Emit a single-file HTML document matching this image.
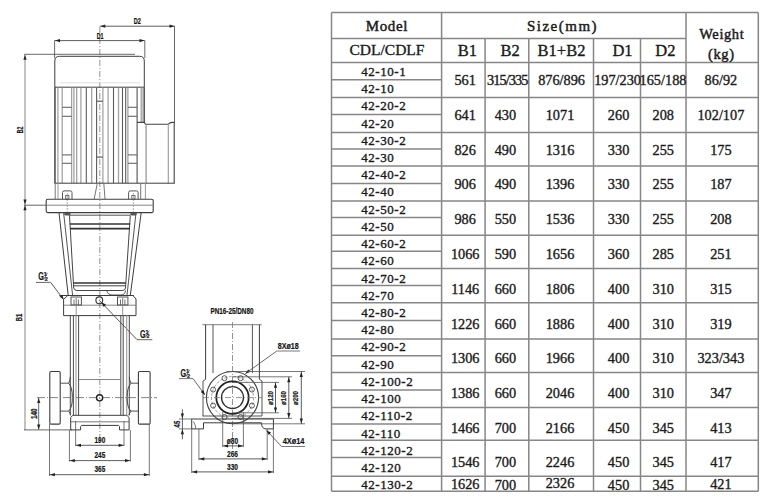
<!DOCTYPE html>
<html><head><meta charset="utf-8"><style>
html,body{margin:0;padding:0;background:#fff;}
body{width:774px;height:500px;position:relative;overflow:hidden;font-family:"Liberation Serif",serif;}
svg{position:absolute;left:0;top:0;}
text{font-family:"Liberation Serif",serif;fill:#1a1a1a;}
.hb{font-size:14.5px;letter-spacing:0.6px;stroke:#1a1a1a;stroke-width:0.45px;}
.hm{font-size:15px;letter-spacing:0.6px;stroke:#1a1a1a;stroke-width:0.45px;}
.hs{font-size:15px;letter-spacing:1.5px;stroke:#1a1a1a;stroke-width:0.45px;}
.hr{font-size:15.5px;stroke:#1a1a1a;stroke-width:0.35px;}
.h2{font-size:16.5px;}
.m{font-size:13px;letter-spacing:0.55px;stroke:#1a1a1a;stroke-width:0.35px;}
.n{font-size:14.3px;stroke:#1a1a1a;stroke-width:0.35px;}
.c{letter-spacing:-0.9px;}
.d{font-family:"Liberation Sans",sans-serif;font-weight:bold;fill:#151515;stroke:#151515;stroke-width:0.2px;}
</style></head><body>
<svg width="774" height="500" viewBox="0 0 774 500">
<g fill="none">
<line x1="99.8" y1="27" x2="99.8" y2="440" stroke="#777" stroke-width="0.8" stroke-dasharray="6,2,1,2"/>
<line x1="99.8" y1="26.2" x2="174.8" y2="26.2" stroke="#333" stroke-width="0.8" />
<path d="M100.3,26.2 L105.3,24.6 L105.3,27.8 Z" fill="#222" stroke="none"/>
<path d="M174.5,26.2 L169.5,27.8 L169.5,24.6 Z" fill="#222" stroke="none"/>
<line x1="174.5" y1="26.2" x2="174.5" y2="122.5" stroke="#555" stroke-width="0.9" />
<text x="137.35" y="23.8" text-anchor="middle" class="d" font-size="8.3" textLength="7.1" lengthAdjust="spacingAndGlyphs" >D2</text>
<line x1="54.6" y1="40.6" x2="144.8" y2="40.6" stroke="#333" stroke-width="0.8" />
<path d="M55.0,40.6 L60.0,39.0 L60.0,42.2 Z" fill="#222" stroke="none"/>
<path d="M144.5,40.6 L139.5,42.2 L139.5,39.0 Z" fill="#222" stroke="none"/>
<line x1="54.6" y1="40.6" x2="54.6" y2="58" stroke="#444" stroke-width="0.8" />
<line x1="144.8" y1="40.6" x2="144.8" y2="58" stroke="#444" stroke-width="0.8" />
<text x="100.1" y="38.6" text-anchor="middle" class="d" font-size="8.3" textLength="6.8" lengthAdjust="spacingAndGlyphs" >D1</text>
<line x1="24" y1="54.3" x2="135" y2="54.3" stroke="#444" stroke-width="0.8" />
<line x1="25" y1="54.3" x2="25" y2="430" stroke="#9a9a9a" stroke-width="1.2" />
<path d="M25.0,54.8 L26.6,59.8 L23.4,59.8 Z" fill="#222" stroke="none"/>
<path d="M25.0,204.6 L23.4,199.6 L26.6,199.6 Z" fill="#222" stroke="none"/>
<path d="M25.0,205.2 L26.6,210.2 L23.4,210.2 Z" fill="#222" stroke="none"/>
<line x1="24" y1="205.2" x2="46.2" y2="205.2" stroke="#555" stroke-width="0.9" />
<text x="22.6" y="130" text-anchor="middle" class="d" font-size="8.2" transform="rotate(-90 22.6 130)" textLength="6.6" lengthAdjust="spacingAndGlyphs" >B2</text>
<text x="22.4" y="317.5" text-anchor="middle" class="d" font-size="8.2" transform="rotate(-90 22.4 317.5)" textLength="7.5" lengthAdjust="spacingAndGlyphs" >B1</text>
<path d="M54.8,87.2 L54.8,61 Q54.8,56.3 59.5,56.3 L139.6,56.3 Q144.3,56.3 144.3,61 L144.3,87.2" stroke="#3c3c3c" stroke-width="1" fill="none" />
<line x1="54.8" y1="87.2" x2="144.3" y2="87.2" stroke="#3c3c3c" stroke-width="1" />
<line x1="60" y1="82.8" x2="140" y2="82.8" stroke="#d8d8d8" stroke-width="0.8" />
<line x1="54.95" y1="87.2" x2="54.95" y2="183.2" stroke="#444" stroke-width="1.5" />
<line x1="57.9" y1="87.7" x2="57.9" y2="183.2" stroke="#a3a3a3" stroke-width="1.3" />
<line x1="62.2" y1="87.7" x2="62.2" y2="183.2" stroke="#a3a3a3" stroke-width="1.3" />
<line x1="71.6" y1="87.7" x2="71.6" y2="183.2" stroke="#a3a3a3" stroke-width="1.3" />
<line x1="73.9" y1="87.7" x2="73.9" y2="183.2" stroke="#a3a3a3" stroke-width="1.3" />
<line x1="76.7" y1="87.7" x2="76.7" y2="183.2" stroke="#a3a3a3" stroke-width="1.3" />
<line x1="80.9" y1="87.7" x2="80.9" y2="183.2" stroke="#a3a3a3" stroke-width="1.3" />
<line x1="91.7" y1="87.7" x2="91.7" y2="183.2" stroke="#a3a3a3" stroke-width="1.3" />
<line x1="102.9" y1="87.7" x2="102.9" y2="183.2" stroke="#a3a3a3" stroke-width="1.3" />
<line x1="108.1" y1="87.7" x2="108.1" y2="183.2" stroke="#a3a3a3" stroke-width="1.3" />
<line x1="118.5" y1="87.7" x2="118.5" y2="183.2" stroke="#a3a3a3" stroke-width="1.3" />
<line x1="127.9" y1="87.7" x2="127.9" y2="183.2" stroke="#a3a3a3" stroke-width="1.3" />
<line x1="141.2" y1="87.7" x2="141.2" y2="122.4" stroke="#a3a3a3" stroke-width="1.3" />
<line x1="143" y1="87.7" x2="143" y2="122.4" stroke="#a3a3a3" stroke-width="1.3" />
<line x1="86.3" y1="87.7" x2="86.3" y2="183.2" stroke="#5c5c5c" stroke-width="1.1" />
<line x1="96.6" y1="87.7" x2="96.6" y2="183.2" stroke="#5c5c5c" stroke-width="1.1" />
<line x1="113.5" y1="87.7" x2="113.5" y2="183.2" stroke="#5c5c5c" stroke-width="1.1" />
<line x1="122.5" y1="87.7" x2="122.5" y2="183.2" stroke="#5c5c5c" stroke-width="1.1" />
<line x1="125.7" y1="87.7" x2="125.7" y2="183.2" stroke="#5c5c5c" stroke-width="1.1" />
<line x1="137.1" y1="87.7" x2="137.1" y2="183.2" stroke="#505050" stroke-width="1.1" />
<line x1="144.3" y1="87.2" x2="144.3" y2="122.5" stroke="#444" stroke-width="1.2" />
<line x1="62.2" y1="107.3" x2="71.6" y2="107.3" stroke="#666" stroke-width="1.1" />
<line x1="62.2" y1="116.3" x2="71.6" y2="116.3" stroke="#666" stroke-width="1.1" />
<line x1="62.2" y1="154.9" x2="71.6" y2="154.9" stroke="#666" stroke-width="1.1" />
<line x1="62.2" y1="163.3" x2="71.6" y2="163.3" stroke="#666" stroke-width="1.1" />
<line x1="127.9" y1="107.3" x2="137.1" y2="107.3" stroke="#666" stroke-width="1.1" />
<line x1="127.9" y1="116.3" x2="137.1" y2="116.3" stroke="#666" stroke-width="1.1" />
<line x1="127.9" y1="154.9" x2="137.1" y2="154.9" stroke="#666" stroke-width="1.1" />
<line x1="127.9" y1="163.3" x2="137.1" y2="163.3" stroke="#666" stroke-width="1.1" />
<line x1="96.6" y1="101.2" x2="102.9" y2="101.2" stroke="#555" stroke-width="1.1" />
<line x1="96.6" y1="157.1" x2="102.9" y2="157.1" stroke="#555" stroke-width="1.1" />
<path d="M137.1,122.4 L144.3,122.4 L145.5,124.2 L168.5,124.2 Q170,122.4 172,122.4 L174.2,122.4 L174.2,183.2" stroke="#444" stroke-width="1.1" fill="none" />
<line x1="146.1" y1="124.3" x2="146.1" y2="183.2" stroke="#888" stroke-width="1.1" />
<line x1="168.3" y1="124.3" x2="168.3" y2="183.2" stroke="#999" stroke-width="1.1" />
<line x1="54.5" y1="183.2" x2="174.8" y2="183.2" stroke="#3c3c3c" stroke-width="1" />
<line x1="55.2" y1="183.2" x2="55.2" y2="199" stroke="#777" stroke-width="1" />
<line x1="58" y1="183.2" x2="58" y2="199" stroke="#999" stroke-width="1" />
<line x1="140.7" y1="183.2" x2="140.7" y2="199" stroke="#777" stroke-width="1" />
<line x1="145.4" y1="183.2" x2="145.4" y2="199" stroke="#999" stroke-width="1" />
<path d="M62.5,199 L62.5,192.5 Q62.5,190.9 64.1,190.9 L70.4,190.9 Q72.0,190.9 72.0,192.5 L72.0,199" stroke="#555" stroke-width="1" fill="none" />
<rect x="65.7" y="195.5" width="3.2" height="3.5" rx="0" stroke="#555" stroke-width="0.8" fill="none"/>
<line x1="67.25" y1="193" x2="67.25" y2="212" stroke="#888" stroke-width="0.7" stroke-dasharray="2,1"/>
<path d="M128.6,199 L128.6,192.5 Q128.6,190.9 130.2,190.9 L136.5,190.9 Q138.1,190.9 138.1,192.5 L138.1,199" stroke="#555" stroke-width="1" fill="none" />
<rect x="131.79999999999998" y="195.5" width="3.2" height="3.5" rx="0" stroke="#555" stroke-width="0.8" fill="none"/>
<line x1="133.35" y1="193" x2="133.35" y2="212" stroke="#888" stroke-width="0.7" stroke-dasharray="2,1"/>
<line x1="97.3" y1="183.2" x2="94.2" y2="199" stroke="#777" stroke-width="1" />
<line x1="103.8" y1="183.2" x2="105" y2="199" stroke="#777" stroke-width="1" />
<rect x="46.2" y="199.3" width="107" height="13.3" rx="1.5" stroke="#3c3c3c" stroke-width="1.1" fill="none"/>
<line x1="46.2" y1="205.2" x2="153.2" y2="205.2" stroke="#777" stroke-width="0.9" />
<ellipse cx="67.4" cy="214" rx="3.3" ry="1.6" fill="#555" stroke="none"/>
<ellipse cx="133.5" cy="214" rx="3.3" ry="1.6" fill="#555" stroke="none"/>
<line x1="59" y1="212.6" x2="68.2" y2="295.3" stroke="#3c3c3c" stroke-width="1" />
<line x1="63.6" y1="212.6" x2="72.6" y2="295.3" stroke="#555" stroke-width="1" />
<line x1="141.2" y1="212.6" x2="130.3" y2="295.3" stroke="#3c3c3c" stroke-width="1" />
<line x1="136" y1="212.6" x2="127" y2="295.3" stroke="#555" stroke-width="1" />
<line x1="68.9" y1="215.2" x2="130.4" y2="215.2" stroke="#555" stroke-width="1" />
<line x1="69.5" y1="215.5" x2="73.7" y2="288" stroke="#444" stroke-width="1" />
<line x1="130.3" y1="215.5" x2="125.5" y2="288" stroke="#444" stroke-width="1" />
<line x1="69.8" y1="224" x2="130.2" y2="224" stroke="#333" stroke-width="1.6" />
<line x1="70.1" y1="228.6" x2="129.9" y2="228.6" stroke="#333" stroke-width="1.6" />
<line x1="73.4" y1="283" x2="125.8" y2="283" stroke="#333" stroke-width="1.5" />
<line x1="73.6" y1="285.8" x2="125.6" y2="285.8" stroke="#444" stroke-width="1" />
<path d="M73.7,288 Q74.5,290.5 77,290.5 L122.5,290.5 Q125,290.5 125.5,288" stroke="#444" stroke-width="1" fill="none" />
<path d="M106.6,290.5 Q108,295 112,295 L121,295 Q125,295 125.5,290.5" stroke="#555" stroke-width="1" fill="none" />
<line x1="59.4" y1="295.5" x2="133.9" y2="295.5" stroke="#3c3c3c" stroke-width="1" />
<path d="M63.6,315.6 L63.6,299.5 L67.5,295.6 M133,295.6 L136,299 L136,315.6 L63.6,315.6" stroke="#3c3c3c" stroke-width="1" fill="none" />
<line x1="63.6" y1="305.2" x2="136" y2="305.2" stroke="#666" stroke-width="0.8" />
<rect x="71" y="297" width="10.4" height="8" rx="0" stroke="#555" stroke-width="1" fill="none"/>
<line x1="74" y1="299.5" x2="74" y2="305" stroke="#555" stroke-width="0.8" />
<line x1="76.2" y1="298" x2="76.2" y2="305" stroke="#555" stroke-width="0.8" />
<line x1="78.4" y1="299.5" x2="78.4" y2="305" stroke="#555" stroke-width="0.8" />
<line x1="76.2" y1="305.2" x2="76.2" y2="315.6" stroke="#888" stroke-width="0.9" />
<rect x="117.5" y="297" width="10.4" height="8" rx="0" stroke="#555" stroke-width="1" fill="none"/>
<line x1="120.5" y1="299.5" x2="120.5" y2="305" stroke="#555" stroke-width="0.8" />
<line x1="122.7" y1="298" x2="122.7" y2="305" stroke="#555" stroke-width="0.8" />
<line x1="124.9" y1="299.5" x2="124.9" y2="305" stroke="#555" stroke-width="0.8" />
<line x1="122.7" y1="305.2" x2="122.7" y2="315.6" stroke="#888" stroke-width="0.9" />
<circle cx="99.3" cy="300.3" r="3.4" stroke="#333" stroke-width="1.1" fill="none" />
<line x1="36" y1="282.4" x2="50.7" y2="282.4" stroke="#555" stroke-width="0.9" />
<line x1="50.7" y1="282.4" x2="63.4" y2="299.3" stroke="#444" stroke-width="0.9" />
<path d="M63.8,299.8 L59.6,296.6 L62.2,294.8 Z" fill="#222" stroke="none"/>
<text x="38.2" y="280.3" class="d" font-size="10" textLength="5.6" lengthAdjust="spacingAndGlyphs">G</text>
<text x="43.800000000000004" y="276.1" class="d" font-size="5.5">1</text>
<text x="44.800000000000004" y="280.5" class="d" font-size="5.5">2</text>
<line x1="43.6" y1="279.8" x2="47.400000000000006" y2="272.8" stroke="#333" stroke-width="0.7"/>
<line x1="99.3" y1="300.3" x2="137" y2="339.7" stroke="#444" stroke-width="0.9" />
<line x1="137" y1="339.7" x2="152.3" y2="339.7" stroke="#555" stroke-width="0.9" />
<path d="M101.3,302.2 L106.0,304.6 L103.7,306.9 Z" fill="#222" stroke="none"/>
<text x="140" y="338" class="d" font-size="10" textLength="5.6" lengthAdjust="spacingAndGlyphs">G</text>
<text x="145.6" y="333.8" class="d" font-size="5.5">1</text>
<text x="146.6" y="338.2" class="d" font-size="5.5">2</text>
<line x1="145.4" y1="337.5" x2="149.2" y2="330.5" stroke="#333" stroke-width="0.7"/>
<line x1="70.3" y1="315.6" x2="70.3" y2="415.3" stroke="#4a4a4a" stroke-width="1" />
<line x1="73.4" y1="315.6" x2="73.4" y2="415.3" stroke="#4a4a4a" stroke-width="1" />
<line x1="78.6" y1="315.6" x2="78.6" y2="415.3" stroke="#4a4a4a" stroke-width="1" />
<line x1="76" y1="315.6" x2="76" y2="415.3" stroke="#9a9a9a" stroke-width="1.1" />
<line x1="120.8" y1="315.6" x2="120.8" y2="415.3" stroke="#4a4a4a" stroke-width="1" />
<line x1="123.2" y1="315.6" x2="123.2" y2="415.3" stroke="#4a4a4a" stroke-width="1" />
<line x1="129.3" y1="315.6" x2="129.3" y2="415.3" stroke="#4a4a4a" stroke-width="1" />
<line x1="126.7" y1="315.6" x2="126.7" y2="415.3" stroke="#9a9a9a" stroke-width="1.1" />
<line x1="78.8" y1="379.5" x2="120.4" y2="379.5" stroke="#777" stroke-width="0.9" />
<path d="M70.3,377 Q70.3,380 68.7,383.2 Q72.5,387.5 72.3,397.5 Q72.5,407.5 68.7,411.1 Q70.3,413.5 70.7,415.3" stroke="#444" stroke-width="1" fill="none" />
<path d="M129.3,377 Q129.3,380 131,383.2 Q127,387.5 127.2,397.5 Q127,407.5 131,411.1 Q129.3,413.5 128.9,415.3" stroke="#444" stroke-width="1" fill="none" />
<line x1="60.2" y1="383.2" x2="68.7" y2="383.2" stroke="#555" stroke-width="1" />
<line x1="60.2" y1="411.1" x2="68.7" y2="411.1" stroke="#555" stroke-width="1" />
<line x1="131" y1="383.2" x2="138.4" y2="383.2" stroke="#555" stroke-width="1" />
<line x1="131" y1="411.1" x2="138.4" y2="411.1" stroke="#555" stroke-width="1" />
<rect x="49.8" y="371.5" width="10.4" height="52.6" rx="1.2" stroke="#3c3c3c" stroke-width="1.1" fill="none"/>
<rect x="138.4" y="371.5" width="11.7" height="52.6" rx="1.2" stroke="#3c3c3c" stroke-width="1.1" fill="none"/>
<line x1="37" y1="397.6" x2="157" y2="397.6" stroke="#666" stroke-width="0.8" stroke-dasharray="8,2,1,2"/>
<circle cx="99.6" cy="397.8" r="3.1" stroke="#222" stroke-width="1.4" fill="none" />
<path d="M70.7,429.9 L70.7,417.5 L72.8,415.3 L126.8,415.3 L129.1,417.5 L129.1,429.9" stroke="#3c3c3c" stroke-width="1" fill="none" />
<line x1="70.7" y1="421.8" x2="129.1" y2="421.8" stroke="#555" stroke-width="0.8" />
<path d="M70.7,429.9 L80.6,429.9 L80.6,426.5 L81.6,425.4 L118.5,425.4 L119.5,426.5 L119.5,429.9 L129.1,429.9" stroke="#3c3c3c" stroke-width="1" fill="none" />
<line x1="38.7" y1="397.6" x2="38.7" y2="429.6" stroke="#444" stroke-width="0.8" />
<path d="M38.7,398.0 L40.3,403.0 L37.1,403.0 Z" fill="#222" stroke="none"/>
<path d="M38.7,429.4 L37.1,424.4 L40.3,424.4 Z" fill="#222" stroke="none"/>
<line x1="24" y1="429.9" x2="72" y2="429.9" stroke="#444" stroke-width="0.8" />
<text x="36.8" y="413.75" text-anchor="middle" class="d" font-size="8.6" transform="rotate(-90 36.8 413.75)" textLength="10.5" lengthAdjust="spacingAndGlyphs" >140</text>
<line x1="75.6" y1="421" x2="75.6" y2="446" stroke="#555" stroke-width="0.8" />
<line x1="124" y1="421" x2="124" y2="446" stroke="#555" stroke-width="0.8" />
<line x1="75.6" y1="445.3" x2="124" y2="445.3" stroke="#333" stroke-width="0.8" />
<path d="M76.0,445.3 L81.0,443.7 L81.0,446.9 Z" fill="#222" stroke="none"/>
<path d="M123.6,445.3 L118.6,446.9 L118.6,443.7 Z" fill="#222" stroke="none"/>
<text x="99.9" y="443.1" text-anchor="middle" class="d" font-size="8.5" textLength="10.8" lengthAdjust="spacingAndGlyphs" >190</text>
<line x1="69.4" y1="430" x2="69.4" y2="461.5" stroke="#555" stroke-width="0.8" />
<line x1="130.4" y1="430" x2="130.4" y2="461.5" stroke="#555" stroke-width="0.8" />
<line x1="69.4" y1="460.6" x2="130.4" y2="460.6" stroke="#333" stroke-width="0.8" />
<path d="M69.8,460.6 L74.8,459.0 L74.8,462.2 Z" fill="#222" stroke="none"/>
<path d="M130.0,460.6 L125.0,462.2 L125.0,459.0 Z" fill="#222" stroke="none"/>
<text x="99.9" y="458" text-anchor="middle" class="d" font-size="8.5" textLength="10.8" lengthAdjust="spacingAndGlyphs" >245</text>
<line x1="49.5" y1="424" x2="49.5" y2="476" stroke="#555" stroke-width="0.8" />
<line x1="149.3" y1="424" x2="149.3" y2="476" stroke="#555" stroke-width="0.8" />
<line x1="49.5" y1="474.7" x2="149.3" y2="474.7" stroke="#333" stroke-width="0.8" />
<path d="M49.9,474.7 L54.9,473.1 L54.9,476.3 Z" fill="#222" stroke="none"/>
<path d="M148.9,474.7 L143.9,476.3 L143.9,473.1 Z" fill="#222" stroke="none"/>
<text x="99.9" y="472.4" text-anchor="middle" class="d" font-size="8.5" textLength="10.8" lengthAdjust="spacingAndGlyphs" >365</text>
<text x="232" y="314.3" text-anchor="middle" class="d" font-size="8.8" textLength="43" lengthAdjust="spacingAndGlyphs" >PN16-25/DN80</text>
<line x1="202.4" y1="324.6" x2="261.6" y2="324.6" stroke="#999" stroke-width="1.3" />
<line x1="232.5" y1="322" x2="232.5" y2="450" stroke="#777" stroke-width="0.8" stroke-dasharray="6,2,1,2"/>
<line x1="205.6" y1="324.6" x2="205.6" y2="379.4" stroke="#3c3c3c" stroke-width="1" />
<line x1="259.4" y1="324.6" x2="259.4" y2="379.4" stroke="#3c3c3c" stroke-width="1" />
<line x1="213" y1="324.6" x2="213" y2="373" stroke="#555" stroke-width="1" />
<line x1="252.4" y1="324.6" x2="252.4" y2="373" stroke="#555" stroke-width="1" />
<path d="M203,416 L203,381 L205.6,379.4 M259.4,379.4 L262,381 L262,416" stroke="#555" stroke-width="1" fill="none" />
<line x1="202.4" y1="416" x2="262" y2="416" stroke="#555" stroke-width="1" />
<circle cx="232.5" cy="397.6" r="26.1" stroke="#3c3c3c" stroke-width="1.1" fill="none" />
<circle cx="232.5" cy="397.6" r="21" stroke="#777" stroke-width="0.7" fill="none" stroke-dasharray="3,1.5"/>
<circle cx="232.5" cy="397.6" r="16.2" stroke="#222" stroke-width="1.8" fill="none" />
<circle cx="232.5" cy="397.6" r="11" stroke="#333" stroke-width="1.3" fill="none" />
<circle cx="251.9" cy="405.64" r="2.5" stroke="#555" stroke-width="1" fill="none" />
<circle cx="240.54" cy="417.0" r="2.5" stroke="#555" stroke-width="1" fill="none" />
<circle cx="224.46" cy="417.0" r="2.5" stroke="#555" stroke-width="1" fill="none" />
<circle cx="213.1" cy="405.64" r="2.5" stroke="#555" stroke-width="1" fill="none" />
<circle cx="213.1" cy="389.56" r="2.5" stroke="#555" stroke-width="1" fill="none" />
<circle cx="224.46" cy="378.2" r="2.5" stroke="#555" stroke-width="1" fill="none" />
<circle cx="240.54" cy="378.2" r="2.5" stroke="#555" stroke-width="1" fill="none" />
<circle cx="251.9" cy="389.56" r="2.5" stroke="#555" stroke-width="1" fill="none" />
<line x1="203" y1="397.6" x2="262" y2="397.6" stroke="#777" stroke-width="0.8" stroke-dasharray="6,2,1,2"/>
<line x1="191.7" y1="419" x2="273.4" y2="419" stroke="#3c3c3c" stroke-width="1" />
<path d="M191.7,419 L191.7,428.9 L203.5,428.9 L203.5,422.8 L261.5,422.8 Q261.5,428.9 266,428.9 L273.4,428.9 L273.4,419" stroke="#3c3c3c" stroke-width="1" fill="none" />
<path d="M193.5,421.5 L195.5,426 L195.5,428.5" stroke="#555" stroke-width="0.8" fill="none" />
<line x1="245.6" y1="373.4" x2="276.8" y2="351" stroke="#444" stroke-width="0.8" />
<line x1="276.8" y1="351" x2="300" y2="351" stroke="#555" stroke-width="0.8" />
<path d="M245.2,373.8 L248.2,369.5 L250.2,372.1 Z" fill="#222" stroke="none"/>
<text x="288.2" y="349" text-anchor="middle" class="d" font-size="9" textLength="21" lengthAdjust="spacingAndGlyphs" >8Xø18</text>
<line x1="226.4" y1="371.5" x2="305" y2="371.5" stroke="#555" stroke-width="0.8" />
<line x1="232" y1="423.8" x2="305" y2="423.8" stroke="#555" stroke-width="0.8" />
<line x1="232" y1="376.8" x2="292" y2="376.8" stroke="#555" stroke-width="0.8" />
<line x1="232" y1="418.4" x2="292" y2="418.4" stroke="#555" stroke-width="0.8" />
<line x1="232" y1="382.4" x2="279" y2="382.4" stroke="#555" stroke-width="0.8" />
<line x1="232" y1="412.8" x2="279" y2="412.8" stroke="#555" stroke-width="0.8" />
<line x1="275.5" y1="382.4" x2="275.5" y2="412.8" stroke="#333" stroke-width="0.8" />
<path d="M275.5,382.8 L277.1,387.8 L273.9,387.8 Z" fill="#222" stroke="none"/>
<path d="M275.5,412.4 L273.9,407.4 L277.1,407.4 Z" fill="#222" stroke="none"/>
<text x="272.5" y="398" text-anchor="middle" class="d" font-size="7.8" transform="rotate(-90 272.5 398)" textLength="14" lengthAdjust="spacingAndGlyphs" >ø120</text>
<line x1="288.8" y1="376.8" x2="288.8" y2="418.4" stroke="#333" stroke-width="0.8" />
<path d="M288.8,377.2 L290.4,382.2 L287.2,382.2 Z" fill="#222" stroke="none"/>
<path d="M288.8,418.0 L287.2,413.0 L290.4,413.0 Z" fill="#222" stroke="none"/>
<text x="285.8" y="398" text-anchor="middle" class="d" font-size="7.8" transform="rotate(-90 285.8 398)" textLength="14" lengthAdjust="spacingAndGlyphs" >ø160</text>
<line x1="301.3" y1="371.5" x2="301.3" y2="423.8" stroke="#333" stroke-width="0.8" />
<path d="M301.3,371.9 L302.9,376.9 L299.7,376.9 Z" fill="#222" stroke="none"/>
<path d="M301.3,423.4 L299.7,418.4 L302.9,418.4 Z" fill="#222" stroke="none"/>
<text x="298.3" y="398" text-anchor="middle" class="d" font-size="7.8" transform="rotate(-90 298.3 398)" textLength="14" lengthAdjust="spacingAndGlyphs" >ø200</text>
<text x="180.4" y="377.3" class="d" font-size="10" textLength="5.6" lengthAdjust="spacingAndGlyphs">G</text>
<text x="186.0" y="373.1" class="d" font-size="5.5">1</text>
<text x="187.0" y="377.5" class="d" font-size="5.5">2</text>
<line x1="185.8" y1="376.8" x2="189.6" y2="369.8" stroke="#333" stroke-width="0.7"/>
<line x1="179" y1="378.6" x2="193" y2="378.6" stroke="#555" stroke-width="0.8" />
<line x1="193" y1="378.6" x2="204.7" y2="394.6" stroke="#444" stroke-width="0.8" />
<path d="M205.0,395.0 L200.7,392.0 L203.3,390.0 Z" fill="#222" stroke="none"/>
<line x1="182.4" y1="409.3" x2="182.4" y2="439.3" stroke="#333" stroke-width="0.8" />
<path d="M182.4,418.6 L180.8,413.6 L184.0,413.6 Z" fill="#222" stroke="none"/>
<path d="M182.4,429.3 L184.0,434.3 L180.8,434.3 Z" fill="#222" stroke="none"/>
<line x1="179" y1="419" x2="192" y2="419" stroke="#555" stroke-width="0.8" />
<line x1="179" y1="428.9" x2="192" y2="428.9" stroke="#555" stroke-width="0.8" />
<text x="179.8" y="424.1" text-anchor="middle" class="d" font-size="8.6" transform="rotate(-90 179.8 424.1)" textLength="6.8" lengthAdjust="spacingAndGlyphs" >45</text>
<line x1="222.7" y1="412" x2="222.7" y2="447" stroke="#555" stroke-width="0.8" />
<line x1="243.4" y1="412" x2="243.4" y2="447" stroke="#555" stroke-width="0.8" />
<line x1="222.7" y1="445.9" x2="243.4" y2="445.9" stroke="#333" stroke-width="0.8" />
<path d="M223.1,445.9 L228.1,444.3 L228.1,447.5 Z" fill="#222" stroke="none"/>
<path d="M243.0,445.9 L238.0,447.5 L238.0,444.3 Z" fill="#222" stroke="none"/>
<text x="232.5" y="444.4" text-anchor="middle" class="d" font-size="8.4" textLength="11.4" lengthAdjust="spacingAndGlyphs" >ø80</text>
<line x1="198.9" y1="429" x2="198.9" y2="460" stroke="#555" stroke-width="0.8" />
<line x1="267.2" y1="429" x2="267.2" y2="460" stroke="#555" stroke-width="0.8" />
<line x1="198.9" y1="458.9" x2="267.2" y2="458.9" stroke="#333" stroke-width="0.8" />
<path d="M199.3,458.9 L204.3,457.3 L204.3,460.5 Z" fill="#222" stroke="none"/>
<path d="M266.8,458.9 L261.8,460.5 L261.8,457.3 Z" fill="#222" stroke="none"/>
<text x="232.5" y="456.8" text-anchor="middle" class="d" font-size="8.5" textLength="11" lengthAdjust="spacingAndGlyphs" >266</text>
<line x1="191.7" y1="429" x2="191.7" y2="473" stroke="#555" stroke-width="0.8" />
<line x1="273.4" y1="429" x2="273.4" y2="473" stroke="#555" stroke-width="0.8" />
<line x1="191.7" y1="471.9" x2="273.4" y2="471.9" stroke="#333" stroke-width="0.8" />
<path d="M192.1,471.9 L197.1,470.3 L197.1,473.5 Z" fill="#222" stroke="none"/>
<path d="M273.0,471.9 L268.0,473.5 L268.0,470.3 Z" fill="#222" stroke="none"/>
<text x="232.5" y="470.3" text-anchor="middle" class="d" font-size="8.5" textLength="11" lengthAdjust="spacingAndGlyphs" >330</text>
<line x1="266.7" y1="430.6" x2="281.6" y2="446.5" stroke="#444" stroke-width="0.8" />
<line x1="281.6" y1="446.5" x2="305" y2="446.5" stroke="#555" stroke-width="0.8" />
<path d="M266.3,430.2 L271.0,432.6 L268.7,434.9 Z" fill="#222" stroke="none"/>
<text x="293.5" y="444.4" text-anchor="middle" class="d" font-size="8.6" textLength="21.7" lengthAdjust="spacingAndGlyphs" >4Xø14</text>
</g></svg>
<svg width="774" height="500" viewBox="0 0 774 500"><g stroke="#868686" stroke-width="1.5" fill="none">
<line x1="331.5" y1="12.5" x2="758.3" y2="12.5"/>
<line x1="331.5" y1="491.2" x2="758.3" y2="491.2"/>
<line x1="331.5" y1="12.5" x2="331.5" y2="491.2"/>
<line x1="758.3" y1="12.5" x2="758.3" y2="491.2"/>
<line x1="331.5" y1="38.5" x2="686" y2="38.5"/>
<line x1="331.5" y1="62.5" x2="758.3" y2="62.5"/>
<line x1="441.6" y1="12.5" x2="441.6" y2="491.2"/>
<line x1="485.1" y1="38.5" x2="485.1" y2="491.2"/>
<line x1="528.8" y1="38.5" x2="528.8" y2="491.2"/>
<line x1="593.5" y1="38.5" x2="593.5" y2="491.2"/>
<line x1="640.5" y1="38.5" x2="640.5" y2="491.2"/>
<line x1="686" y1="12.5" x2="686" y2="491.2"/>
<line x1="331.5" y1="79.8" x2="441.6" y2="79.8"/>
<line x1="331.5" y1="97.5" x2="758.3" y2="97.5"/>
<line x1="331.5" y1="114.5" x2="441.6" y2="114.5"/>
<line x1="331.5" y1="132.4" x2="758.3" y2="132.4"/>
<line x1="331.5" y1="148.9" x2="441.6" y2="148.9"/>
<line x1="331.5" y1="166.1" x2="758.3" y2="166.1"/>
<line x1="331.5" y1="183.6" x2="441.6" y2="183.6"/>
<line x1="331.5" y1="201" x2="758.3" y2="201"/>
<line x1="331.5" y1="217.4" x2="441.6" y2="217.4"/>
<line x1="331.5" y1="235.3" x2="758.3" y2="235.3"/>
<line x1="331.5" y1="251.3" x2="441.6" y2="251.3"/>
<line x1="331.5" y1="268.4" x2="758.3" y2="268.4"/>
<line x1="331.5" y1="285.5" x2="441.6" y2="285.5"/>
<line x1="331.5" y1="302.8" x2="758.3" y2="302.8"/>
<line x1="331.5" y1="320.4" x2="441.6" y2="320.4"/>
<line x1="331.5" y1="339.1" x2="758.3" y2="339.1"/>
<line x1="331.5" y1="355.7" x2="441.6" y2="355.7"/>
<line x1="331.5" y1="372.5" x2="758.3" y2="372.5"/>
<line x1="331.5" y1="389.9" x2="441.6" y2="389.9"/>
<line x1="331.5" y1="407.6" x2="758.3" y2="407.6"/>
<line x1="331.5" y1="424" x2="441.6" y2="424"/>
<line x1="331.5" y1="440.3" x2="758.3" y2="440.3"/>
<line x1="331.5" y1="457.4" x2="441.6" y2="457.4"/>
<line x1="331.5" y1="476.3" x2="758.3" y2="476.3"/>
</g>
<text class="hm" x="386.9" y="30.6" text-anchor="middle">Model</text>
<text class="hs" x="562.5" y="30.6" text-anchor="middle">Size(mm)</text>
<text class="hb" x="721.8" y="38.5" text-anchor="middle">Weight</text>
<text class="hb" x="721.3" y="59.0" text-anchor="middle">(kg)</text>
<text class="hr" x="387.0" y="55.0" text-anchor="middle">CDL/CDLF</text>
<text class="hr h2" x="467.5" y="55.6" text-anchor="middle">B1</text>
<text class="hr h2" x="510.2" y="55.6" text-anchor="middle">B2</text>
<text class="hr h2" x="561.5" y="55.6" text-anchor="middle">B1+B2</text>
<text class="hr h2" x="622.5" y="55.6" text-anchor="middle">D1</text>
<text class="hr h2" x="665.4" y="55.6" text-anchor="middle">D2</text>
<text class="m" x="361.2" y="75.9" text-anchor="start">42-10-1</text>
<text class="m" x="361.2" y="93.1" text-anchor="start">42-10</text>
<text class="n" x="465.2" y="85.2" text-anchor="middle">561</text>
<text class="n c" x="507.3" y="85.2" text-anchor="middle">315/335</text>
<text class="n" x="561.6" y="85.2" text-anchor="middle">876/896</text>
<text class="n" x="617.6" y="85.2" text-anchor="middle">197/230</text>
<text class="n" x="663.0" y="85.2" text-anchor="middle">165/188</text>
<text class="n" x="720.9" y="85.2" text-anchor="middle">86/92</text>
<text class="m" x="361.2" y="110.3" text-anchor="start">42-20-2</text>
<text class="m" x="361.2" y="127.6" text-anchor="start">42-20</text>
<text class="n" x="465.2" y="120.0" text-anchor="middle">641</text>
<text class="n" x="505.4" y="120.0" text-anchor="middle">430</text>
<text class="n" x="560.0" y="120.0" text-anchor="middle">1071</text>
<text class="n" x="618.6" y="120.0" text-anchor="middle">260</text>
<text class="n" x="663.3" y="120.0" text-anchor="middle">208</text>
<text class="n" x="720.9" y="120.0" text-anchor="middle">102/107</text>
<text class="m" x="361.2" y="144.8" text-anchor="start">42-30-2</text>
<text class="m" x="361.2" y="162.0" text-anchor="start">42-30</text>
<text class="n" x="465.2" y="154.8" text-anchor="middle">826</text>
<text class="n" x="505.4" y="154.8" text-anchor="middle">490</text>
<text class="n" x="560.0" y="154.8" text-anchor="middle">1316</text>
<text class="n" x="618.6" y="154.8" text-anchor="middle">330</text>
<text class="n" x="663.3" y="154.8" text-anchor="middle">255</text>
<text class="n" x="720.9" y="154.8" text-anchor="middle">175</text>
<text class="m" x="361.2" y="179.2" text-anchor="start">42-40-2</text>
<text class="m" x="361.2" y="196.4" text-anchor="start">42-40</text>
<text class="n" x="465.2" y="189.2" text-anchor="middle">906</text>
<text class="n" x="505.4" y="189.2" text-anchor="middle">490</text>
<text class="n" x="560.0" y="189.2" text-anchor="middle">1396</text>
<text class="n" x="618.6" y="189.2" text-anchor="middle">330</text>
<text class="n" x="663.3" y="189.2" text-anchor="middle">255</text>
<text class="n" x="720.9" y="189.2" text-anchor="middle">187</text>
<text class="m" x="361.2" y="213.7" text-anchor="start">42-50-2</text>
<text class="m" x="361.2" y="230.9" text-anchor="start">42-50</text>
<text class="n" x="465.2" y="224.0" text-anchor="middle">986</text>
<text class="n" x="505.4" y="224.0" text-anchor="middle">550</text>
<text class="n" x="560.0" y="224.0" text-anchor="middle">1536</text>
<text class="n" x="618.6" y="224.0" text-anchor="middle">330</text>
<text class="n" x="663.3" y="224.0" text-anchor="middle">255</text>
<text class="n" x="720.9" y="224.0" text-anchor="middle">208</text>
<text class="m" x="361.2" y="248.1" text-anchor="start">42-60-2</text>
<text class="m" x="361.2" y="265.3" text-anchor="start">42-60</text>
<text class="n" x="465.2" y="258.8" text-anchor="middle">1066</text>
<text class="n" x="505.4" y="258.8" text-anchor="middle">590</text>
<text class="n" x="560.0" y="258.8" text-anchor="middle">1656</text>
<text class="n" x="618.6" y="258.8" text-anchor="middle">360</text>
<text class="n" x="663.3" y="258.8" text-anchor="middle">285</text>
<text class="n" x="720.9" y="258.8" text-anchor="middle">251</text>
<text class="m" x="361.2" y="282.5" text-anchor="start">42-70-2</text>
<text class="m" x="361.2" y="299.8" text-anchor="start">42-70</text>
<text class="n" x="465.2" y="293.5" text-anchor="middle">1146</text>
<text class="n" x="505.4" y="293.5" text-anchor="middle">660</text>
<text class="n" x="560.0" y="293.5" text-anchor="middle">1806</text>
<text class="n" x="618.6" y="293.5" text-anchor="middle">400</text>
<text class="n" x="663.3" y="293.5" text-anchor="middle">310</text>
<text class="n" x="720.9" y="293.5" text-anchor="middle">315</text>
<text class="m" x="361.2" y="317.0" text-anchor="start">42-80-2</text>
<text class="m" x="361.2" y="334.2" text-anchor="start">42-80</text>
<text class="n" x="465.2" y="328.8" text-anchor="middle">1226</text>
<text class="n" x="505.4" y="328.8" text-anchor="middle">660</text>
<text class="n" x="560.0" y="328.8" text-anchor="middle">1886</text>
<text class="n" x="618.6" y="328.8" text-anchor="middle">400</text>
<text class="n" x="663.3" y="328.8" text-anchor="middle">310</text>
<text class="n" x="720.9" y="328.8" text-anchor="middle">319</text>
<text class="m" x="361.2" y="351.4" text-anchor="start">42-90-2</text>
<text class="m" x="361.2" y="368.6" text-anchor="start">42-90</text>
<text class="n" x="465.2" y="363.2" text-anchor="middle">1306</text>
<text class="n" x="505.4" y="363.2" text-anchor="middle">660</text>
<text class="n" x="560.0" y="363.2" text-anchor="middle">1966</text>
<text class="n" x="618.6" y="363.2" text-anchor="middle">400</text>
<text class="n" x="663.3" y="363.2" text-anchor="middle">310</text>
<text class="n" x="720.9" y="363.2" text-anchor="middle">323/343</text>
<text class="m" x="361.2" y="385.9" text-anchor="start">42-100-2</text>
<text class="m" x="361.2" y="403.1" text-anchor="start">42-100</text>
<text class="n" x="465.2" y="397.9" text-anchor="middle">1386</text>
<text class="n" x="505.4" y="397.9" text-anchor="middle">660</text>
<text class="n" x="560.0" y="397.9" text-anchor="middle">2046</text>
<text class="n" x="618.6" y="397.9" text-anchor="middle">400</text>
<text class="n" x="663.3" y="397.9" text-anchor="middle">310</text>
<text class="n" x="720.9" y="397.9" text-anchor="middle">347</text>
<text class="m" x="361.2" y="420.3" text-anchor="start">42-110-2</text>
<text class="m" x="361.2" y="437.5" text-anchor="start">42-110</text>
<text class="n" x="465.2" y="432.7" text-anchor="middle">1466</text>
<text class="n" x="505.4" y="432.7" text-anchor="middle">700</text>
<text class="n" x="560.0" y="432.7" text-anchor="middle">2166</text>
<text class="n" x="618.6" y="432.7" text-anchor="middle">450</text>
<text class="n" x="663.3" y="432.7" text-anchor="middle">345</text>
<text class="n" x="720.9" y="432.7" text-anchor="middle">413</text>
<text class="m" x="361.2" y="454.7" text-anchor="start">42-120-2</text>
<text class="m" x="361.2" y="472.0" text-anchor="start">42-120</text>
<text class="n" x="465.2" y="467.4" text-anchor="middle">1546</text>
<text class="n" x="505.4" y="467.4" text-anchor="middle">700</text>
<text class="n" x="560.0" y="467.4" text-anchor="middle">2246</text>
<text class="n" x="618.6" y="467.4" text-anchor="middle">450</text>
<text class="n" x="663.3" y="467.4" text-anchor="middle">345</text>
<text class="n" x="720.9" y="467.4" text-anchor="middle">417</text>
<text class="m" x="361.2" y="489.2" text-anchor="start">42-130-2</text>
<text class="n" x="465.2" y="488.6" text-anchor="middle">1626</text>
<text class="n" x="505.4" y="489.6" text-anchor="middle">700</text>
<text class="n" x="560.0" y="487.6" text-anchor="middle">2326</text>
<text class="n" x="618.6" y="490.3" text-anchor="middle">450</text>
<text class="n" x="663.3" y="489.6" text-anchor="middle">345</text>
<text class="n" x="720.9" y="489.2" text-anchor="middle">421</text>
</svg>
</body></html>
